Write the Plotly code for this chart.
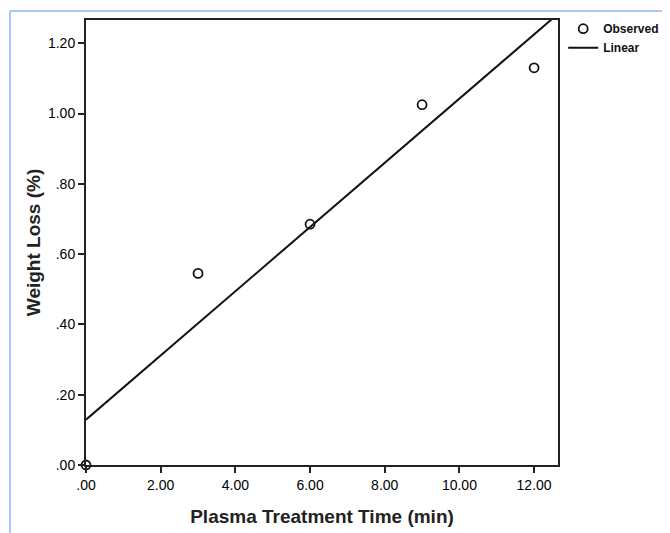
import numpy as np
import plotly.graph_objects as go

# Data
time_min = [0, 3, 6, 9, 12]
weight_loss = [0.0, 0.545, 0.685, 1.025, 1.13]
x_tickvals = [0, 2, 4, 6, 8, 10, 12]
x_ticktext = [".00", "2.00", "4.00", "6.00", "8.00", "10.00", "12.00"]
y_tickvals = [0, 0.2, 0.4, 0.6, 0.8, 1.0, 1.2]
y_ticktext = [".00", ".20", ".40", ".60", ".80", "1.00", "1.20"]

# Linear fit from observed data
slope, intercept = np.polyfit(time_min, weight_loss, 1)
fit_x = np.array([0, 14])
fit_y = intercept + slope * fit_x

font = "Liberation Sans, Arial, sans-serif"

# page body has an 8px margin, so the figure starts at (8, 8)
OFF = 8
W, H = 670 - OFF, 533 - OFF
L, R, T, B = 86 - OFF, 670 - 558, 20 - OFF, 533 - 465
pw, ph = W - L - R, H - T - B
bx = (10 - OFF - L) / pw
by = 1 + (T - (11 - OFF)) / ph

fig = go.Figure()
fig.add_trace(go.Scatter(
    x=time_min, y=weight_loss, mode="markers", name="Observed",
    marker=dict(symbol="circle-open", size=9, color="#111", line=dict(width=1.8)),
    cliponaxis=False,
))
fig.add_trace(go.Scatter(
    x=fit_x, y=fit_y, mode="lines", name="Linear",
    line=dict(color="#111", width=2),
))

fig.update_layout(
    width=W, height=H,
    margin=dict(l=L, r=R, t=T, b=B, autoexpand=False),
    paper_bgcolor="white", plot_bgcolor="white",
    font=dict(family=font, color="#111"),
    showlegend=True,
    legend=dict(x=1.011, y=1.013, xanchor="left", yanchor="top",
                font=dict(size=12, color="#111",
                          family="Liberation Sans Narrow, Arial Narrow, Liberation Sans, sans-serif",
                          weight="bold"),
                tracegroupgap=0, bgcolor="rgba(0,0,0,0)"),
    xaxis=dict(
        range=[0, 12.64], tickvals=x_tickvals, ticktext=x_ticktext,
        showgrid=False, zeroline=False, showline=True, linecolor="#222",
        linewidth=2, mirror=True, ticks="outside", ticklen=6, tickwidth=2,
        tickcolor="#222", tickfont=dict(size=14, color="#000"),
        title=dict(text="<b>Plasma Treatment Time (min)</b>",
                   font=dict(size=19, color="#222"), standoff=18),
    ),
    yaxis=dict(
        range=[0, 1.266], tickvals=y_tickvals, ticktext=y_ticktext,
        showgrid=False, zeroline=False, showline=True, linecolor="#222",
        linewidth=2, mirror=True, ticks="outside", ticklen=6, tickwidth=2,
        tickcolor="#222", tickfont=dict(size=14, color="#000"),
        title=dict(text="<b>Weight Loss (%)</b>",
                   font=dict(size=19, color="#222"), standoff=2),
    ),
    shapes=[
        dict(type="line", xref="paper", yref="paper", x0=bx, x1=bx,
             y0=-0.3, y1=by, line=dict(color="#a9c9ee", width=2)),
        dict(type="line", xref="paper", yref="paper", x0=bx, x1=1.4,
             y0=by, y1=by, line=dict(color="#a9c9ee", width=2)),
    ],
)

fig.write_html("out.html")
